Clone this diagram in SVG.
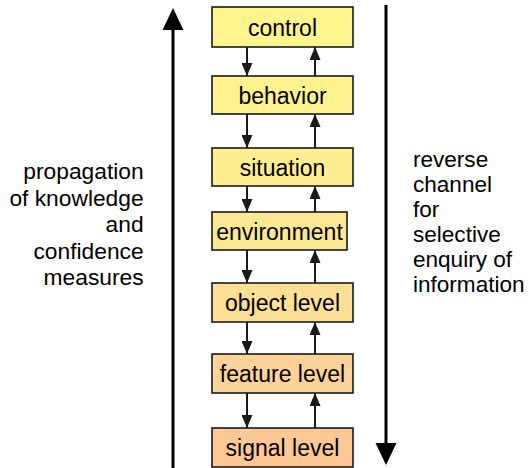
<svg xmlns="http://www.w3.org/2000/svg" width="529" height="468" viewBox="0 0 529 468">
<defs>
<style>
.box{stroke:#1a1a1a;stroke-width:1.6}
.bt{font-family:"Liberation Sans",Arial,sans-serif;font-size:23px;fill:#000;text-anchor:middle}
.st{font-family:"Liberation Sans",Arial,sans-serif;font-size:21.5px;fill:#000}
.con{stroke:#1a1a1a;stroke-width:2;fill:none}
.big{stroke:#000;stroke-width:3;fill:none}
</style>
<marker id="ah" viewBox="0 0 13 11" refX="13" refY="5.5" markerWidth="13" markerHeight="11" markerUnits="userSpaceOnUse" orient="auto">
<path d="M0,0 L13,5.5 L0,11 Z" fill="#1a1a1a"/>
</marker>
</defs>
<rect width="529" height="468" fill="#fff"/>
<g id="connectors">
<line class="con" x1="247" y1="47" x2="247" y2="76" marker-end="url(#ah)"/>
<line class="con" x1="315" y1="76" x2="315" y2="47" marker-end="url(#ah)"/>
<line class="con" x1="247" y1="114" x2="247" y2="148" marker-end="url(#ah)"/>
<line class="con" x1="315" y1="148" x2="315" y2="114" marker-end="url(#ah)"/>
<line class="con" x1="247" y1="186" x2="247" y2="212" marker-end="url(#ah)"/>
<line class="con" x1="315" y1="212" x2="315" y2="186" marker-end="url(#ah)"/>
<line class="con" x1="247" y1="250" x2="247" y2="283" marker-end="url(#ah)"/>
<line class="con" x1="315" y1="283" x2="315" y2="250" marker-end="url(#ah)"/>
<line class="con" x1="247" y1="322" x2="247" y2="354" marker-end="url(#ah)"/>
<line class="con" x1="315" y1="354" x2="315" y2="322" marker-end="url(#ah)"/>
<line class="con" x1="247" y1="393" x2="247" y2="428" marker-end="url(#ah)"/>
<line class="con" x1="315" y1="428" x2="315" y2="393" marker-end="url(#ah)"/>
<line class="big" x1="173" y1="468" x2="173" y2="29"/>
<path d="M173,8 L183.5,30 L162.5,30 Z" fill="#000"/>
<line class="big" x1="386" y1="5" x2="386" y2="444"/>
<path d="M386,465 L396.5,443 L375.5,443 Z" fill="#000"/>
</g>
<g id="control"><rect class="box" x="212" y="7" width="141" height="40" fill="#FFF58F"/><text class="bt" x="282.5" y="36">control</text></g>
<g id="behavior"><rect class="box" x="212" y="76" width="141" height="38" fill="#FFF38F"/><text class="bt" x="282.5" y="103.5">behavior</text></g>
<g id="situation"><rect class="box" x="212" y="148" width="141" height="38" fill="#FFEF90"/><text class="bt" x="282.5" y="175.5">situation</text></g>
<g id="environment"><rect class="box" x="212" y="212" width="135" height="38" fill="#FDE894"/><text class="bt" x="279.5" y="239.5">environment</text></g>
<g id="object-level"><rect class="box" x="212" y="283" width="141" height="39" fill="#FDDF95"/><text class="bt" x="282.5" y="311">object level</text></g>
<g id="feature-level"><rect class="box" x="212" y="354" width="141" height="39" fill="#FDD398"/><text class="bt" x="282.5" y="382">feature level</text></g>
<g id="signal-level"><rect class="box" x="212" y="428" width="141" height="39" fill="#FEC894"/><text class="bt" x="282.5" y="455.5">signal level</text></g>
<g id="left-label" transform="scale(1.06,1)">
<text class="st" text-anchor="end" x="135.5" y="179.5">propagation</text>
<text class="st" text-anchor="end" x="135.5" y="206">of knowledge</text>
<text class="st" text-anchor="end" x="135.5" y="232.5">and</text>
<text class="st" text-anchor="end" x="135.5" y="259">confidence</text>
<text class="st" text-anchor="end" x="135.5" y="285.5">measures</text>
</g>
<g id="right-label" transform="scale(1.05,1)">
<text class="st" x="393.3" y="167">reverse</text>
<text class="st" x="393.3" y="192">channel</text>
<text class="st" x="393.3" y="217">for</text>
<text class="st" x="393.3" y="242">selective</text>
<text class="st" x="393.3" y="267">enquiry of</text>
<text class="st" x="393.3" y="292">information</text>
</g>
</svg>
